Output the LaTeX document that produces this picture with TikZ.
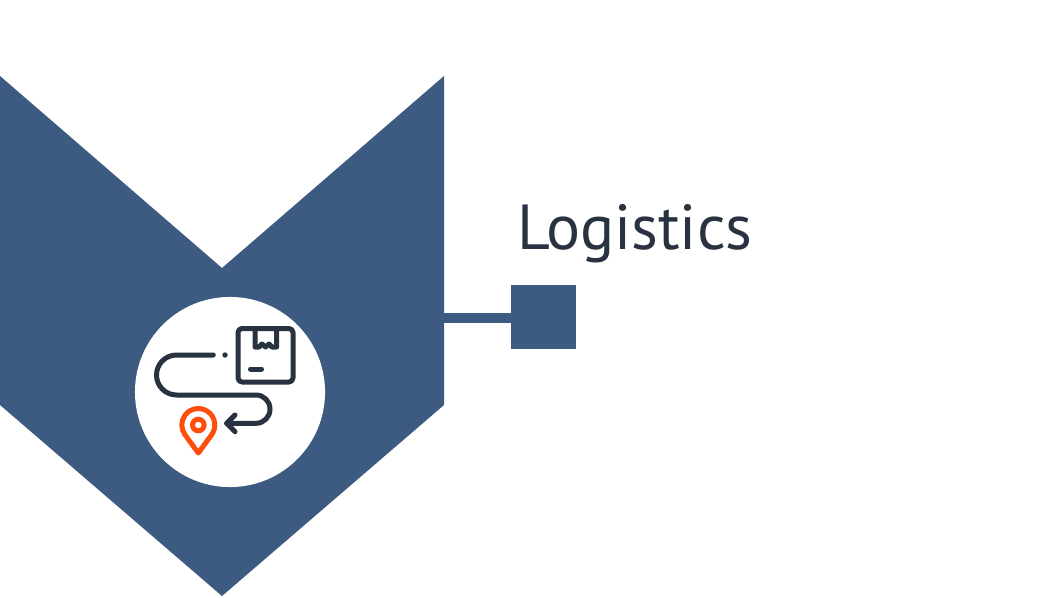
\documentclass[tikz,border=0pt]{standalone}
\usepackage{fontspec}
\setmainfont{PT Sans}
\usetikzlibrary{positioning, calc}
\definecolor{chevronblue}{HTML}{3D5A80}
\definecolor{icondark}{HTML}{293241}
\definecolor{iconorange}{HTML}{FF4D0D}

\begin{document}
\begin{tikzpicture}[
    x=0.01cm, y=-0.01cm,
    markerbox/.style={rectangle, fill=chevronblue, minimum size=0.645cm, inner sep=0pt},
    titlelabel/.style={font=\fontsize{18.1pt}{22pt}\selectfont, text=icondark, anchor=base west, inner sep=0pt},
    badge/.style={circle, fill=white, minimum size=1.9cm, inner sep=0pt},
    link/.style={draw=chevronblue, line width=0.094cm},
    iconline/.style={draw=icondark, line width=0.05cm, line cap=round, line join=round},
    pinline/.style={draw=iconorange, line width=0.05cm, line cap=round, line join=round},
]
\useasboundingbox (0,0) rectangle (1040,597);

% ============ Chevron ============
\fill[chevronblue] (0,76) -- (222,268) -- (444,76) -- (444,405) -- (222,596) -- (0,405) -- cycle;
\node[badge] (badge) at (230,392) {};

% ============ Marker and title ============
\coordinate (chevronedge) at (444,318);
\node[markerbox] (marker) at (543.7,317) {};
\node[titlelabel] (title) at (516.3,249) {Logistics};
\draw[link] (chevronedge) -- (marker.center |- chevronedge);

% ============ Parcel ============
\draw[iconline, rounded corners=0.04cm] (238,328.5) rectangle (293,382);
\draw[iconline] (255,328.5) -- (255,347) -- (259,347) -- (262,344) -- (265.5,347) -- (269,344) -- (272,347) -- (276.7,347) -- (276.7,328.5);
\draw[iconline] (250.5,369) -- (261.5,369);

% ============ Route ============
\draw[iconline, rounded corners=0.2cm] (213.3,355) -- (156.5,355) -- (156.5,395) -- (213,395)
    [rounded corners=0.14cm] -- (270,395) -- (270,423.3) -- (226.7,423.3);
\draw[iconline] (235,415) -- (226.7,423.3) -- (235,431.7);
\fill[icondark] (225,355) circle[radius=2.7];

% ============ Pin ============
\coordinate (pincentre) at (198.3,425);
\coordinate (pintip) at (198.3,453);
\draw[pinline] (pintip) -- ($(pincentre)+(37:16.5)$) arc[start angle=37, end angle=-217, radius=16.5] -- cycle;
\draw[pinline] (pincentre) circle[radius=5.8];

\end{tikzpicture}
\end{document}
